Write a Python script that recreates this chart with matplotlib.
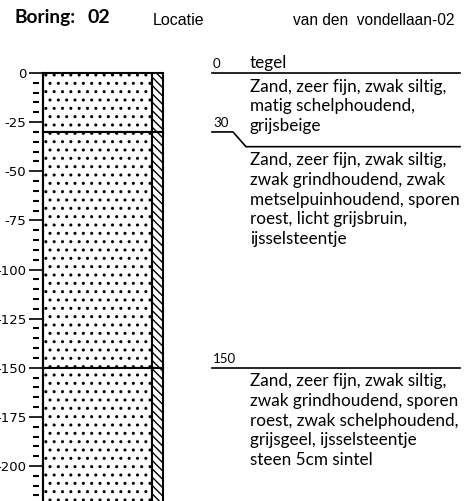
import matplotlib.pyplot as plt
from matplotlib.patches import Rectangle
from matplotlib.ticker import MultipleLocator

plt.rcParams['hatch.linewidth'] = 1.0
plt.rcParams['axes.unicode_minus'] = False

# gegevens van de boring
boring = "02"
locatie = "van den  vondellaan-02"
grenzen = [0, 30, 150, 220]          # laaggrenzen in cm
bovenste_laag = "tegel"
omschrijvingen = [
    "Zand, zeer fijn, zwak siltig,\nmatig schelphoudend,\ngrijsbeige",
    "Zand, zeer fijn, zwak siltig,\nzwak grindhoudend, zwak\nmetselpuinhoudend, sporen\nroest, licht grijsbruin,\nijsselsteentje",
    "Zand, zeer fijn, zwak siltig,\nzwak grindhoudend, sporen\nroest, zwak schelphoudend,\ngrijsgeel, ijsselsteentje\nsteen 5cm sintel",
]
knik = [0, 7.5, 0, 0]                 # verschuiving van de grenslijn onder de tekst
diepte_min = -217.8

W, H = 470, 501
fig = plt.figure(figsize=(W / 100, H / 100), dpi=100)
tekstfont = 'Lato'

# kolom met de lagen
ax = fig.add_axes([43 / W, 0, 120 / W, 428 / H])
ax.set_xlim(0, 1)
ax.set_ylim(diepte_min, 0)
for top, bot in zip(grenzen[:-1], grenzen[1:]):
    ax.add_patch(Rectangle((0, -bot), 0.908, bot - top, facecolor='white',
                           edgecolor='black', hatch='..', lw=1.5, clip_on=False))
    ax.add_patch(Rectangle((0.908, -bot), 0.092, bot - top, facecolor='white',
                           edgecolor='black', hatch='\\\\\\\\', lw=1.5, clip_on=False))
for s in ['top', 'right', 'bottom']:
    ax.spines[s].set_visible(False)
ax.spines['left'].set_linewidth(1.5)
ax.set_xticks([])
ax.yaxis.set_major_locator(MultipleLocator(25))
ax.tick_params(axis='y', which='major', direction='out', length=10, width=1.2,
               labelsize=9.5, pad=2)
ax.tick_params(axis='y', which='minor', length=0)

# kleine streepjes los van de as
axm = fig.add_axes([43 / W, 0, 120 / W, 428 / H], sharey=ax)
axm.patch.set_visible(False)
for s in ['top', 'right', 'bottom']:
    axm.spines[s].set_visible(False)
axm.spines['left'].set_position(('outward', 3.2))
axm.spines['left'].set_visible(False)
axm.set_xticks([])
axm.yaxis.set_minor_locator(MultipleLocator(5))
axm.tick_params(axis='y', which='major', length=0, labelleft=False)
axm.tick_params(axis='y', which='minor', direction='out', length=4.3, width=1.5)

# beschrijving rechts
axr = fig.add_axes([200 / W, 0, 270 / W, 428 / H])
axr.set_xlim(200, 470)
axr.set_ylim(diepte_min, 0)
axr.axis('off')
for d, k in zip(grenzen, knik):
    if k:
        axr.plot([212, 233, 246, 460], [-d, -d, -d - k, -d - k], color='black',
                 lw=1.2, clip_on=False)
    else:
        axr.plot([212, 460], [-d, -d], color='black', lw=1.2, clip_on=False)
    axr.annotate(str(d), (213, -d), xytext=(0, 2), textcoords='offset points',
                 fontsize=9.5, family=tekstfont, va='bottom', ha='left')

axr.annotate(bovenste_laag, (250, 0), xytext=(0, 1.5), textcoords='offset points',
             fontsize=12.3, family=tekstfont, va='bottom', ha='left')
for d, k, txt in zip(grenzen[:-1], knik[:-1], omschrijvingen):
    axr.annotate(txt, (250, -d - k), xytext=(0, -4), textcoords='offset points',
                 fontsize=12.3, family=tekstfont, va='top', ha='left', linespacing=1.28)

# kop
fig.text(15 / W, 1 - 23 / H, "Boring:", fontsize=13.8, fontweight='bold',
         family=tekstfont, va='baseline')
fig.text(88 / W, 1 - 23 / H, boring, fontsize=14, fontweight='bold',
         family=tekstfont, va='baseline')
fig.text(153 / W, 1 - 25 / H, "Locatie", fontsize=11.5, family='Liberation Sans',
         va='baseline')
fig.text(293 / W, 1 - 25 / H, locatie, fontsize=11.2, family='Liberation Sans',
         va='baseline')

fig.savefig('out.png', dpi=100)
